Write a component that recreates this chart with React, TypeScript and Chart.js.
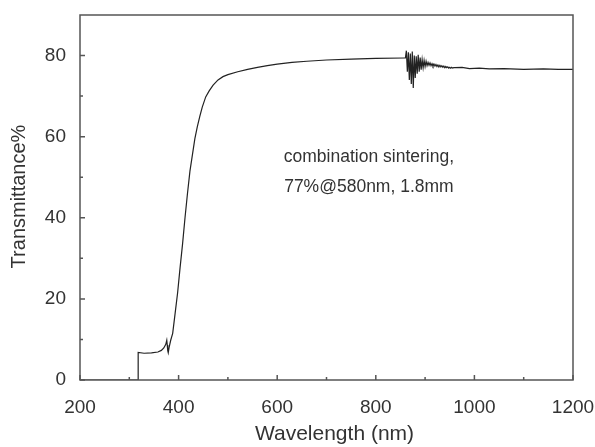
import React, { useEffect, useRef } from "react";
import { Chart, registerables } from "chart.js";

Chart.register(...registerables);

// Absorption edge region (nm, %)
const edgeWavelength = [200, 318, 318, 330, 345, 358, 365, 370, 374, 376, 377, 378, 379, 381, 384, 388, 393, 398, 403, 408, 413, 418, 423, 428, 433, 438, 443, 448, 455, 462, 470, 480, 490, 500, 520, 540, 560, 580, 600, 630, 660, 700, 750, 800, 858];
const edgeTransmittance = [0, 0, 6.8, 6.6, 6.7, 6.9, 7.3, 7.9, 8.8, 9.8, 8.6, 7.2, 6.7, 8.2, 9.8, 11.5, 16.5, 21.5, 27.7, 33.5, 40, 46, 51.5, 55.5, 59.5, 62.5, 65, 67.3, 69.8, 71.3, 72.7, 74, 74.8, 75.3, 76, 76.6, 77.1, 77.5, 77.9, 78.3, 78.6, 78.9, 79.1, 79.3, 79.4];

// Detector-change noise region
const noiseWavelength = [860, 862, 864, 866, 868, 870, 872, 874, 876, 878, 880, 882, 884, 886, 888, 890, 892, 894, 896, 898, 900, 902, 904, 906, 908, 910, 912, 914, 916, 918, 920, 922, 924, 926, 928, 930, 932, 934, 936, 938, 940, 942, 944, 946, 948, 950, 952, 954, 956, 958];
const noiseTransmittance = [79.4, 81.2, 76.0, 80.8, 74.0, 80.5, 73.0, 81.0, 72.0, 80.0, 74.5, 79.8, 75.5, 80.2, 76.0, 79.5, 76.5, 79.0, 77.0, 78.8, 77.3, 78.6, 77.5, 78.3, 77.6, 78.2, 77.5, 78.0, 77.4, 77.9, 77.4, 77.8, 77.3, 77.7, 77.2, 77.6, 77.2, 77.5, 77.1, 77.4, 77.0, 77.3, 77.0, 77.2, 76.9, 77.1, 76.9, 77.1, 76.9, 77.0];

// Flat tail
const tailWavelength = [960, 975, 990, 1010, 1030, 1060, 1100, 1140, 1170, 1200];
const tailTransmittance = [77.0, 77.1, 76.8, 76.9, 76.7, 76.8, 76.6, 76.7, 76.6, 76.6];

const xMinorTicks = [300, 500, 700, 900, 1100];
const yMinorTicks = [10, 30, 50, 70];

const xTitle = "Wavelength (nm)";
const yTitle = "Transmittance%";
const annotationLines = ["combination sintering,", "77%@580nm, 1.8mm"];
const annotationX = 786;
const annotationY = [55, 47.5];

const FONT = "'Liberation Sans', Arial, sans-serif";

function zeroPadding(scale: any) {
  scale.paddingLeft = 0;
  scale.paddingRight = 0;
  scale.paddingTop = 0;
  scale.paddingBottom = 0;
}

export default function App() {
  const ref = useRef<HTMLCanvasElement>(null);

  useEffect(() => {
    const wl = [...edgeWavelength, ...noiseWavelength, ...tailWavelength];
    const tr = [...edgeTransmittance, ...noiseTransmittance, ...tailTransmittance];
    const points = wl.map((x, i) => ({ x, y: tr[i] }));

    const framePlugin = {
      id: "frame",
      afterDatasetsDraw(chart: any) {
        const { ctx, chartArea } = chart;
        const xs = chart.scales.x;
        const ys = chart.scales.y;
        ctx.save();
        ctx.strokeStyle = "#555";
        ctx.lineWidth = 1.5;
        ctx.strokeRect(chartArea.left, chartArea.top, chartArea.right - chartArea.left, chartArea.bottom - chartArea.top);
        ctx.beginPath();
        xs.ticks.forEach((t: any) => {
          const px = xs.getPixelForValue(t.value);
          ctx.moveTo(px, chartArea.bottom);
          ctx.lineTo(px, chartArea.bottom - 5);
        });
        xMinorTicks.forEach((v) => {
          const px = xs.getPixelForValue(v);
          ctx.moveTo(px, chartArea.bottom);
          ctx.lineTo(px, chartArea.bottom - 3);
        });
        ys.ticks.forEach((t: any) => {
          const py = ys.getPixelForValue(t.value);
          ctx.moveTo(chartArea.left, py);
          ctx.lineTo(chartArea.left + 5, py);
        });
        yMinorTicks.forEach((v) => {
          const py = ys.getPixelForValue(v);
          ctx.moveTo(chartArea.left, py);
          ctx.lineTo(chartArea.left + 3, py);
        });
        ctx.stroke();

        ctx.fillStyle = "#333";
        ctx.textAlign = "center";
        ctx.textBaseline = "middle";
        ctx.font = `17.5px ${FONT}`;
        annotationLines.forEach((line, i) => {
          ctx.fillText(line, xs.getPixelForValue(annotationX), ys.getPixelForValue(annotationY[i]));
        });

        // axis titles
        ctx.font = `21px ${FONT}`;
        ctx.fillText(xTitle, (chartArea.left + chartArea.right) / 2 + 8, chartArea.bottom + 54);
        ctx.save();
        ctx.translate(19, (chartArea.top + chartArea.bottom) / 2 - 1);
        ctx.rotate(-Math.PI / 2);
        ctx.font = `20px ${FONT}`;
        ctx.fillText(yTitle, 0, 0);
        ctx.restore();
        ctx.restore();
      },
    };

    const chart = new Chart(ref.current as HTMLCanvasElement, {
      type: "line",
      data: {
        datasets: [
          {
            data: points,
            borderColor: "#222",
            borderWidth: 1.2,
            pointRadius: 0,
            tension: 0,
            fill: false,
          },
        ],
      },
      options: {
        responsive: false,
        animation: false,
        events: [],
        layout: { padding: { top: 15, right: 22, left: 0, bottom: 0 } },
        plugins: {
          legend: { display: false },
          tooltip: { enabled: false },
        },
        scales: {
          x: {
            type: "linear",
            min: 200,
            max: 1200,
            grid: { display: false, drawTicks: false },
            border: { display: false },
            ticks: {
              stepSize: 200,
              padding: 16,
              color: "#333",
              font: { family: FONT, size: 19 },
              maxRotation: 0,
              includeBounds: false,
              callback: (v: any) => String(v),
            },
            afterFit(scale: any) {
              scale.height = 67;
              zeroPadding(scale);
            },
          },
          y: {
            type: "linear",
            min: 0,
            max: 90,
            grid: { display: false, drawTicks: false },
            border: { display: false },
            ticks: {
              stepSize: 20,
              padding: 14,
              color: "#333",
              font: { family: FONT, size: 19 },
              includeBounds: false,
              callback: (v: any) => String(v),
            },
            afterFit(scale: any) {
              scale.width = 80;
              zeroPadding(scale);
            },
          },
        },
      },
      plugins: [framePlugin],
    });
    return () => chart.destroy();
  }, []);

  return (
    <div style={{ position: "fixed", left: 0, top: 0, width: 595, height: 447, background: "#fff" }}>
      <canvas ref={ref} width={595} height={447} style={{ display: "block" }} />
    </div>
  );
}
